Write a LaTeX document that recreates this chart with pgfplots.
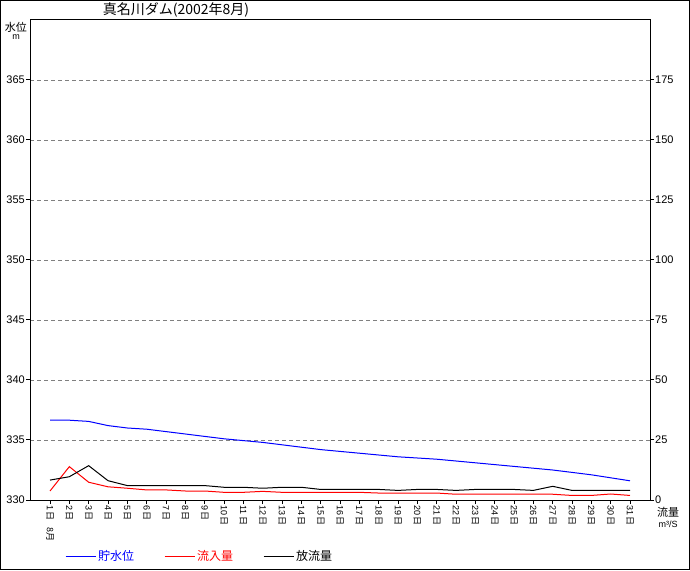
\documentclass[border=0pt]{standalone}
\usepackage{fontspec}
\setmainfont{Liberation Sans}
\newfontfamily\jp{Noto Sans CJK JP}
\usepackage{pgfplots}
\pgfplotsset{compat=1.18}
\begin{document}
\begin{tikzpicture}
\begin{axis}[
  at={(30pt,70pt)}, anchor=south west, scale only axis,
  width=620pt, height=480pt,
  xmin=-0.035, xmax=32.035, ymin=330, ymax=370,
  xtick={1,...,31},
  xticklabels={1\,\jp 日,2\,\jp 日,3\,\jp 日,4\,\jp 日,5\,\jp 日,6\,\jp 日,7\,\jp 日,8\,\jp 日,9\,\jp 日,10\,\jp 日,11\,\jp 日,12\,\jp 日,13\,\jp 日,14\,\jp 日,15\,\jp 日,16\,\jp 日,17\,\jp 日,18\,\jp 日,19\,\jp 日,20\,\jp 日,21\,\jp 日,22\,\jp 日,23\,\jp 日,24\,\jp 日,25\,\jp 日,26\,\jp 日,27\,\jp 日,28\,\jp 日,29\,\jp 日,30\,\jp 日,31\,\jp 日},
  x tick label style={rotate=-90, anchor=west, font=\fontsize{9}{9}\selectfont, inner sep=1pt},
  ytick={330,335,...,365},
  y tick label style={font=\fontsize{11}{11}\selectfont, inner sep=1pt},
  tick align=outside, xtick pos=left, ytick pos=left, major tick length=4pt,
  ymajorgrids, grid style={dash pattern=on 4pt off 3pt, color=gray, line width=0.8pt},
  axis line style={line width=1pt}, tick style={black, line width=1pt},
  /pgf/number format/assume math mode=true,
  clip=false,
]
\addplot[blue, line width=1pt] coordinates {
(1,336.65)(2,336.65)(3,336.55)(4,336.2)(5,336.0)(6,335.9)(7,335.7)(8,335.5)(9,335.3)(10,335.1)
(11,334.95)(12,334.8)(13,334.6)(14,334.4)(15,334.2)(16,334.05)(17,333.9)(18,333.75)(19,333.6)(20,333.5)
(21,333.4)(22,333.25)(23,333.1)(24,332.95)(25,332.8)(26,332.65)(27,332.5)(28,332.3)(29,332.1)(30,331.85)(31,331.6)};
\node[rotate=-90, anchor=west, font=\jp\fontsize{9}{9}\selectfont, inner sep=0pt] at (axis cs:1,327.75) {8月};
\end{axis}
\begin{axis}[
  at={(30pt,70pt)}, anchor=south west, scale only axis,
  width=620pt, height=480pt,
  xmin=-0.035, xmax=32.035, ymin=0, ymax=200,
  axis x line=none, axis y line*=right,
  ytick={0,25,...,175},
  y tick label style={font=\fontsize{11}{11}\selectfont, inner sep=1pt},
  tick align=outside, ytick pos=right, major tick length=4pt,
  axis line style={line width=1pt}, tick style={black, line width=1pt},
  /pgf/number format/assume math mode=true,
  legend image code/.code={\draw[#1] (0pt,0pt) -- (30pt,0pt);},
  legend style={at={(axis description cs:0.0565,-0.1167)}, anchor=west, draw=none, fill=none,
    inner sep=0pt, legend columns=3, font=\jp\fontsize{12}{12}\selectfont,
    /tikz/every even column/.append style={column sep=28pt},
    nodes={inner sep=2pt}},
]
\addlegendimage{blue, line width=1pt}
\addlegendentry{\textcolor{blue}{貯水位}}
\addplot[red, line width=1pt] coordinates {
(1,3.75)(2,13.9)(3,7.4)(4,5.5)(5,4.9)(6,4.2)(7,4.2)(8,3.75)(9,3.75)(10,3.2)
(11,3.2)(12,3.6)(13,3.2)(14,3.2)(15,3.2)(16,3.2)(17,3.2)(18,2.9)(19,2.9)(20,2.9)
(21,2.9)(22,2.4)(23,2.4)(24,2.4)(25,2.4)(26,2.4)(27,2.4)(28,1.9)(29,1.9)(30,2.5)(31,1.9)};
\addlegendentry{\textcolor{red}{流入量}}
\addplot[black, line width=1pt] coordinates {
(1,8.3)(2,9.7)(3,14.3)(4,8.05)(5,6.0)(6,6.0)(7,6.0)(8,6.0)(9,6.0)(10,5.3)
(11,5.3)(12,4.9)(13,5.3)(14,5.3)(15,4.4)(16,4.4)(17,4.4)(18,4.4)(19,4.0)(20,4.4)
(21,4.4)(22,4.0)(23,4.4)(24,4.4)(25,4.4)(26,4.0)(27,5.7)(28,4.0)(29,4.0)(30,4.0)(31,4.0)};
\addlegendentry{放流量}
\end{axis}
\node[font=\jp\fontsize{14}{14}\selectfont] at (176pt,560pt) {真名川ダム(2002年8月)};
\node[font=\jp\fontsize{11}{11}\selectfont] at (16pt,543pt) {水位};
\node[font=\fontsize{9}{9}\selectfont] at (16pt,533pt) {m};
\node[font=\jp\fontsize{11}{11}\selectfont] at (668pt,58pt) {流量};
\node[font=\fontsize{9}{9}\selectfont] at (668pt,46pt) {m³/S};
\draw[line width=1pt] (0.5pt,0.5pt) rectangle (689.5pt,569.5pt);
\pgfresetboundingbox
\useasboundingbox (0pt,0pt) rectangle (690pt,570pt);
\end{tikzpicture}
\end{document}
